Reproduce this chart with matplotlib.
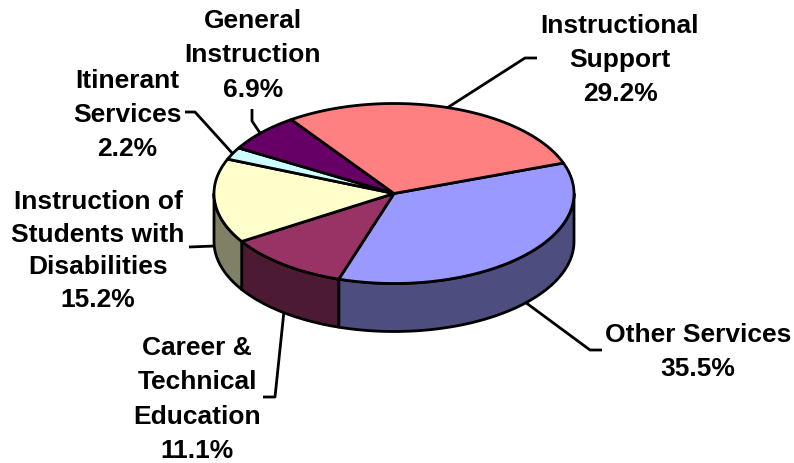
import numpy as np
import matplotlib
matplotlib.use("Agg")
import matplotlib.pyplot as plt
from matplotlib.patches import Polygon

categories = ["Other Services", "Career &\nTechnical\nEducation",
              "Instruction of\nStudents with\nDisabilities", "Itinerant\nServices",
              "General\nInstruction", "Instructional\nSupport"]
shares = [35.5, 11.1, 15.2, 2.2, 6.9, 29.2]
top_colors = ["#9999FF", "#993366", "#FFFFCC", "#CCFFFF", "#660066", "#FF8080"]
side_colors = ["#4D4D80", "#4D1A33", "#808066", "#668080", "#330033", "#804040"]
label_pos = [(698, 352), (197, 399.5), (98, 251), (127, 115), (253, 55.5), (620, 60)]
spacing = [1.54, 1.54, 1.44, 1.54, 1.54, 1.54]
leaders = [[(525, 303), (590, 351), (602, 351)],
           [(284, 312), (275, 398), (263, 398)],
           [(215, 247), (189, 248)],
           [(233, 155), (195, 113), (185, 113)],
           [(260, 134), (252, 122), (252, 110)],
           [(447, 109), (525, 59), (537, 59)]]

CX, CY, RX, RY, DEPTH = 394, 194.5, 180, 90, 48
START = 19.8
LW = 2.0

fig = plt.figure(figsize=(7.94, 4.64), dpi=100)
ax = fig.add_axes([0, 0, 1, 1])
ax.set_xlim(0, 794)
ax.set_ylim(464, 0)
ax.axis("off")


def rim(a0, a1, dy=0.0):
    t = np.radians(np.linspace(a0, a1, max(2, int(abs(a1 - a0) * 2))))
    return np.column_stack([CX + RX * np.cos(t), CY - RY * np.sin(t) + dy])


# clockwise sweep boundaries (degrees, counter-clockwise positive)
edges = START - np.cumsum([0] + shares) * 360 / sum(shares)

# outer walls: only the part in the front half (180..360 deg)
for i in range(len(shares)):
    a0, a1 = edges[i], edges[i + 1]
    for shift in (0, 360, 720):
        lo = max(a1 + shift, 180)
        hi = min(a0 + shift, 360)
        if hi > lo:
            front = rim(lo, hi)
            back = rim(hi, lo, DEPTH)
            ax.add_patch(Polygon(np.vstack([front, back]), closed=True, fc=side_colors[i],
                                 ec="black", lw=LW, joinstyle="round", zorder=2))

# top faces
for i in range(len(shares)):
    pts = np.vstack([[(CX, CY)], rim(edges[i], edges[i + 1])])
    ax.add_patch(Polygon(pts, closed=True, fc=top_colors[i], ec="black", lw=LW,
                         joinstyle="round", zorder=3))

for path in leaders:
    xs, ys = zip(*path)
    ax.plot(xs, ys, color="black", lw=LW, zorder=1, solid_capstyle="butt")

for name, share, (x, y), ls in zip(categories, shares, label_pos, spacing):
    ax.text(x, y, f"{name}\n{share:.1f}%", ha="center", va="center", family="Liberation Sans",
            weight="bold", fontsize=19, linespacing=ls, color="black", zorder=5)

fig.savefig("out.png", dpi=100)
